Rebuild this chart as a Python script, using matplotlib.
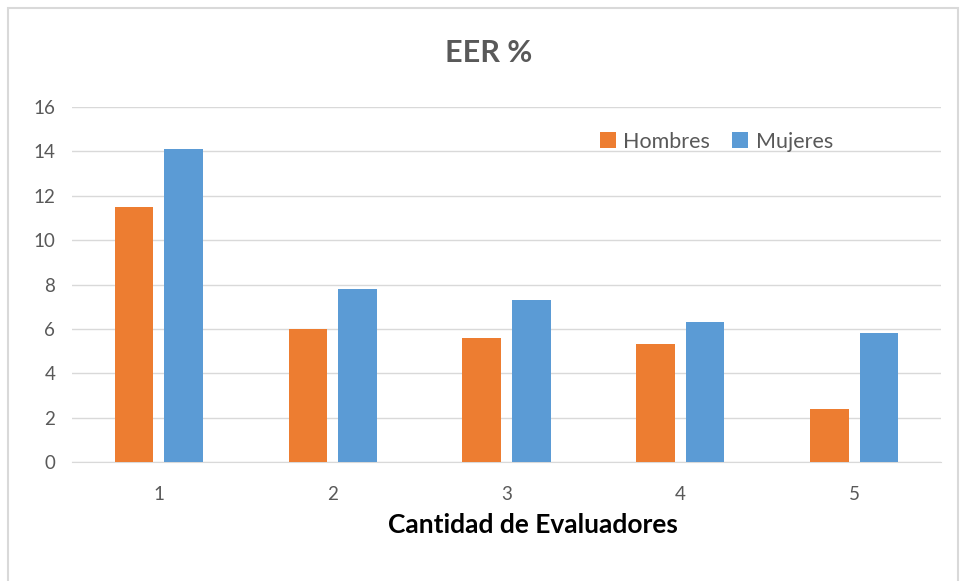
import matplotlib
matplotlib.use("Agg")
import matplotlib.pyplot as plt
import numpy as np
from matplotlib.patches import Rectangle

categories = ["1", "2", "3", "4", "5"]
hombres = [11.5, 6.0, 5.6, 5.3, 2.4]
mujeres = [14.1, 7.8, 7.3, 6.3, 5.8]

plt.rcParams['font.family'] = ['Lato', 'DejaVu Sans']

fig = plt.figure(figsize=(9.61, 5.81), dpi=100)
ax = fig.add_axes([72 / 961, 1 - 462 / 581, 869 / 961, 355 / 581])

# outer chart frame
fig.patches.append(Rectangle((8 / 961, -0.01), 950 / 961, 1 - 8 / 581 + 0.01,
                             transform=fig.transFigure, fill=False,
                             edgecolor="#d9d9d9", linewidth=1.5))

x = np.arange(len(categories))
w = 0.222
ax.bar(x - 0.143, hombres, w, color="#ed7d31", label="Hombres", zorder=3)
ax.bar(x + 0.143, mujeres, w, color="#5b9bd5", label="Mujeres", zorder=3)

ax.set_xlim(-0.5, 4.5)
ax.set_ylim(0, 16)
ax.set_yticks(range(0, 17, 2))
ax.set_xticks(x)
ax.set_xticklabels(categories)
ax.grid(axis="y", color="#d9d9d9", linewidth=1, zorder=0)
for s in ["top", "right", "left"]:
    ax.spines[s].set_visible(False)
ax.spines["bottom"].set_color("#d9d9d9")
ax.tick_params(axis="both", length=0, labelsize=13.5, labelcolor="#595959")
ax.tick_params(axis="x", pad=17)
ax.tick_params(axis="y", pad=12)

ax.set_xlabel("Cantidad de Evaluadores", fontsize=19, fontweight="bold",
              color="black", va="center")
ax.xaxis.set_label_coords(0.530, -0.177)
fig.text(489 / 961, 1 - 53 / 581, "EER %", ha="center", va="center",
         fontsize=22, fontweight="bold", color="#595959")

ax.legend(loc="upper left", bbox_to_anchor=(0.585, 0.985), ncol=2, frameon=False,
          fontsize=15.5, handlelength=0.75, handleheight=0.75, handletextpad=0.35,
          columnspacing=1.0, labelcolor="#595959")

plt.savefig("out.png", dpi=100)
